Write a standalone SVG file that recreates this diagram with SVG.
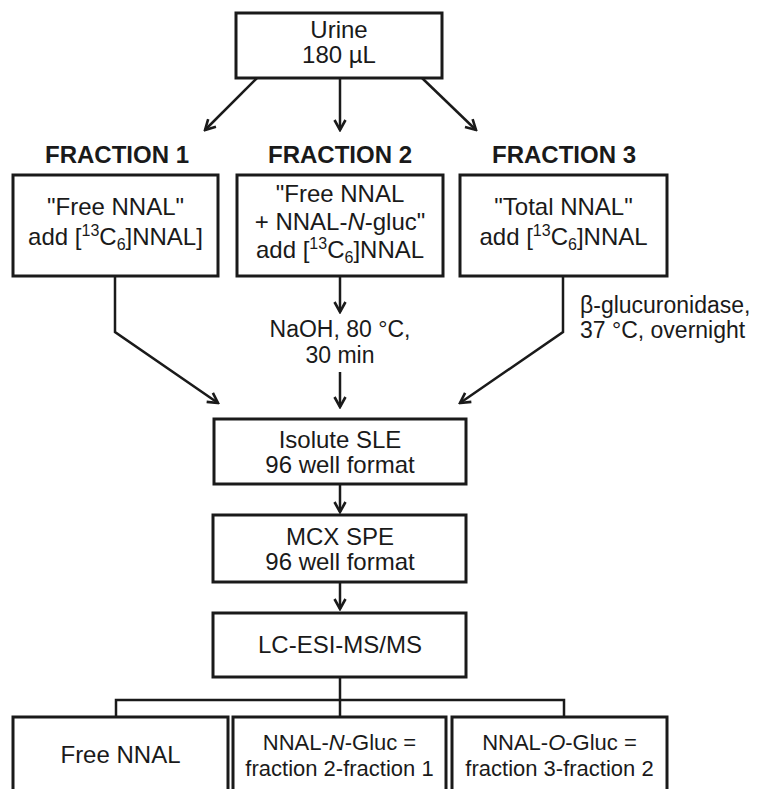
<svg xmlns="http://www.w3.org/2000/svg" width="768" height="789" viewBox="0 0 768 789">
<defs>
<style>
.box{fill:#fff;stroke:#1a1a1a;stroke-width:3}
.c{fill:none;stroke:#1a1a1a;stroke-width:2.5}
text{font-family:"Liberation Sans",Arial,Helvetica,sans-serif;font-size:24px;fill:#1a1a1a;text-anchor:middle}
.h{font-weight:bold;font-size:24px}
.l{text-anchor:start;font-size:23px}
.s{font-size:22px}
.m{font-size:23px}
.sm{font-size:16px}
</style>
<marker id="ah" markerUnits="userSpaceOnUse" markerWidth="14" markerHeight="14" viewBox="0 0 14 14" refX="12" refY="7" orient="auto">
<path d="M2,1.5 L12,7 L2,12.5" fill="none" stroke="#1a1a1a" stroke-width="2.6"/>
</marker>
</defs>
<rect width="768" height="789" fill="#fff"/>

<g id="connectors">
<line class="c" x1="257" y1="78" x2="205" y2="130" marker-end="url(#ah)"/>
<line class="c" x1="340" y1="78" x2="340" y2="130" marker-end="url(#ah)"/>
<line class="c" x1="422" y1="78" x2="476" y2="130" marker-end="url(#ah)"/>
<polyline class="c" points="115,276 115,332 218,403" marker-end="url(#ah)"/>
<polyline class="c" points="563,276 563,332 460,403" marker-end="url(#ah)"/>
<line class="c" x1="340" y1="276" x2="340" y2="312" marker-end="url(#ah)"/>
<line class="c" x1="340" y1="372" x2="340" y2="407" marker-end="url(#ah)"/>
<line class="c" x1="340" y1="484" x2="340" y2="512" marker-end="url(#ah)"/>
<line class="c" x1="340" y1="582" x2="340" y2="609" marker-end="url(#ah)"/>
<polyline class="c" points="340,677 340,717"/>
<polyline class="c" points="116,717 116,700 564,700 564,717"/>
</g>

<g id="urine">
<rect class="box" x="236" y="13" width="206" height="65"/>
<text x="339" y="38">Urine</text>
<text x="339" y="63">180 µL</text>
</g>

<g id="labels">
<text class="h" x="117" y="163">FRACTION 1</text>
<text class="h" x="340" y="163">FRACTION 2</text>
<text class="h" x="564" y="163">FRACTION 3</text>
</g>

<g id="fraction1">
<rect class="box" x="13" y="175" width="205" height="101"/>
<text x="115.5" y="215">"Free NNAL"</text>
<text x="115.5" y="245">add [<tspan class="sm" dy="-9">13</tspan><tspan dy="9">C</tspan><tspan class="sm" dy="5">6</tspan><tspan dy="-5">]NNAL]</tspan></text>
</g>

<g id="fraction2">
<rect class="box" x="237" y="175" width="206" height="101"/>
<text x="340" y="202">"Free NNAL</text>
<text x="340" y="230">+ NNAL-<tspan font-style="italic">N</tspan>-gluc"</text>
<text x="340" y="258">add [<tspan class="sm" dy="-9">13</tspan><tspan dy="9">C</tspan><tspan class="sm" dy="5">6</tspan><tspan dy="-5">]NNAL</tspan></text>
</g>

<g id="fraction3">
<rect class="box" x="460" y="175" width="207" height="101"/>
<text x="563.5" y="215">"Total NNAL"</text>
<text x="563.5" y="245">add [<tspan class="sm" dy="-9">13</tspan><tspan dy="9">C</tspan><tspan class="sm" dy="5">6</tspan><tspan dy="-5">]NNAL</tspan></text>
</g>

<g id="naoh">
<text class="m" x="340" y="337">NaOH, 80 °C,</text>
<text class="m" x="340" y="363">30 min</text>
</g>

<g id="glucuronidase">
<text class="l" x="580" y="313">β-glucuronidase,</text>
<text class="l" x="580" y="338">37 °C, overnight</text>
</g>

<g id="isolute">
<rect class="box" x="214" y="419" width="252" height="65"/>
<text x="340" y="448">Isolute SLE</text>
<text x="340" y="473">96 well format</text>
</g>

<g id="mcx">
<rect class="box" x="213" y="515" width="253" height="67"/>
<text x="340" y="545">MCX SPE</text>
<text x="340" y="570">96 well format</text>
</g>

<g id="lcms">
<rect class="box" x="213" y="613" width="253" height="64"/>
<text x="340" y="653">LC-ESI-MS/MS</text>
</g>

<g id="free">
<rect class="box" x="13" y="717" width="215" height="90"/>
<text x="120.5" y="763">Free NNAL</text>
</g>

<g id="nglucs">
<rect class="box" x="233" y="717" width="213" height="90"/>
<text class="s" x="339.5" y="750">NNAL-<tspan font-style="italic">N</tspan>-Gluc =</text>
<text class="s" x="339.5" y="776">fraction 2-fraction 1</text>
</g>

<g id="oglucs">
<rect class="box" x="452" y="717" width="215" height="90"/>
<text class="s" x="559.5" y="750">NNAL-<tspan font-style="italic">O</tspan>-Gluc =</text>
<text class="s" x="559.5" y="776">fraction 3-fraction 2</text>
</g>
</svg>
